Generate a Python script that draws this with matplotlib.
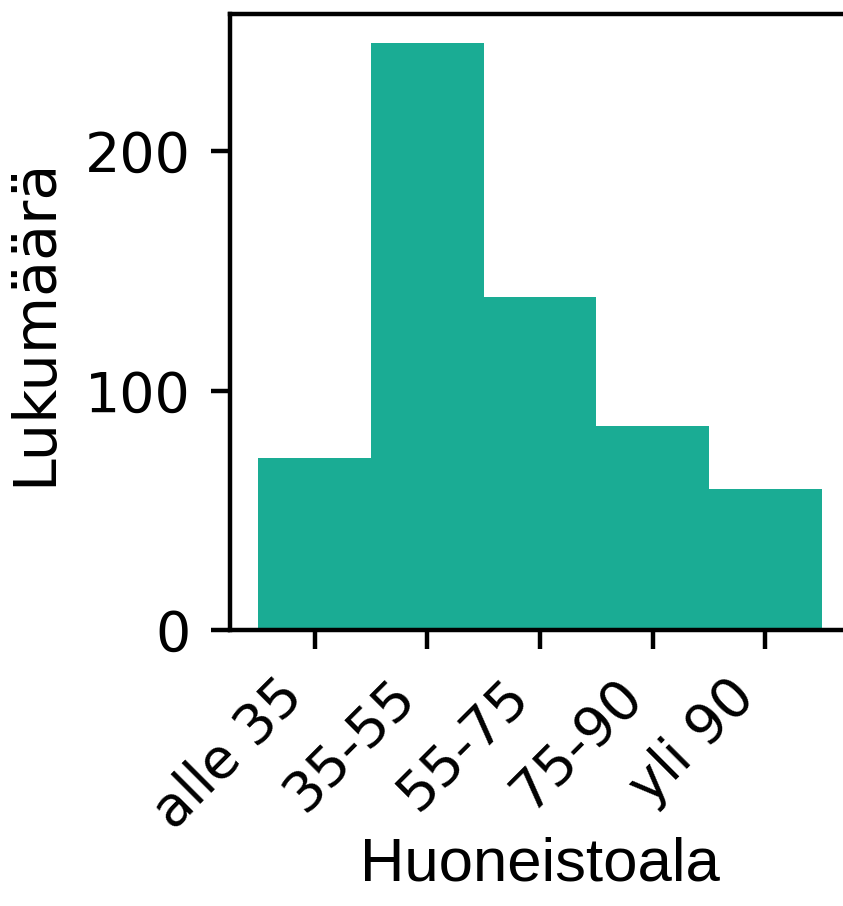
import numpy as np
import matplotlib
matplotlib.use("Agg")
import matplotlib.pyplot as plt

# huoneistoalat ja lukumäärät
categories = ["alle 35", "35-55", "55-75", "75-90", "yli 90"]
counts = [72, 245, 139, 85, 59]
yticks = [0, 100, 200]

bar_color = "#1aac94"

fig = plt.figure(figsize=(843 / 400, 906 / 400), dpi=400)
ax = fig.add_axes([230 / 843, 276 / 906, 620 / 843, 616 / 906])

x = np.arange(len(categories))
ax.bar(x, counts, width=1.0, color=bar_color)

ax.set_xticks(x)
ax.set_xticklabels(categories, rotation=45, ha="right", fontsize=10, family="DejaVu Sans")
ax.set_yticks(yticks)
ax.set_yticklabels([str(t) for t in yticks], fontsize=10, family="DejaVu Sans")

ax.set_ylabel("Lukumäärä", fontsize=10.6, family="DejaVu Sans")
ax.set_xlabel("Huoneistoala", fontsize=11.1, family="Liberation Sans", labelpad=-0.5)

fig.savefig("out.png", dpi=400)
